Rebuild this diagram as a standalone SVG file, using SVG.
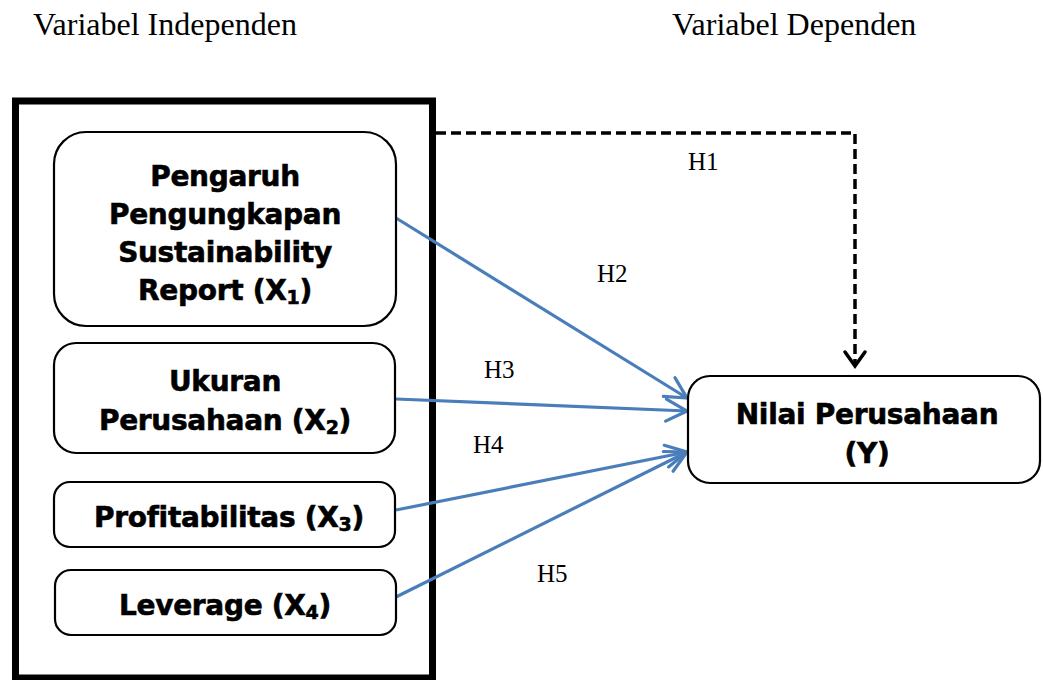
<svg xmlns="http://www.w3.org/2000/svg" width="1043" height="680" viewBox="0 0 1043 680">
<defs>
<style>
.hd{font-family:"Liberation Serif","Times New Roman",serif;font-size:32px;fill:#000}
.lb{font-family:"Liberation Serif","Times New Roman",serif;font-size:25px;fill:#000}
.nt{font-family:"DejaVu Sans",Verdana,sans-serif;font-weight:bold;font-size:28px;fill:#000;stroke:#000;stroke-width:0.6;text-anchor:middle;letter-spacing:-0.3px}
.sub{font-size:19px}
.box{fill:#fff;stroke:#000;stroke-width:2.2}
.blue{fill:none;stroke:#4a7ebb;stroke-width:3.2;marker-end:url(#ab)}
.dash{fill:none;stroke:#000;stroke-width:3.5;stroke-dasharray:10 5;marker-end:url(#ak)}
</style>
<marker id="ab" markerUnits="userSpaceOnUse" viewBox="-24 -14 28 28" refX="0" refY="0" markerWidth="28" markerHeight="28" orient="auto">
<path d="M-21 -11 L0 0 L-21 11" fill="none" stroke="#4a7ebb" stroke-width="3.2" stroke-linecap="round" stroke-linejoin="miter"/>
</marker>
<marker id="ak" markerUnits="userSpaceOnUse" viewBox="-24 -14 28 28" refX="0" refY="0" markerWidth="28" markerHeight="28" orient="auto">
<path d="M-14 -10 L0 0 L-14 10" fill="none" stroke="#000" stroke-width="3.5" stroke-linecap="round"/>
</marker>
</defs>
<rect width="1043" height="680" fill="#fff"/>
<g id="headings">
<text class="hd" x="33" y="35">Variabel Independen</text>
<text class="hd" x="672" y="35">Variabel Dependen</text>
</g>
<g id="group-independen">
<rect x="15.5" y="101" width="417" height="577" fill="none" stroke="#000" stroke-width="7"/>
</g>
<g id="connectors">
<path class="dash" d="M436 133 H855 V366"/>
<path class="blue" d="M396 218 L687 398"/>
<path class="blue" d="M396 399 L687 411"/>
<path class="blue" d="M396 510 L687 452"/>
<path class="blue" d="M396 597 L687 452"/>
<text class="lb" x="688" y="170">H1</text>
<text class="lb" x="597" y="282">H2</text>
<text class="lb" x="484" y="378">H3</text>
<text class="lb" x="473" y="453">H4</text>
<text class="lb" x="537" y="582">H5</text>
</g>
<g id="node-x1">
<rect class="box" x="54" y="132" width="342" height="194" rx="32"/>
<text class="nt" x="225" y="186">Pengaruh</text>
<text class="nt" x="225" y="224">Pengungkapan</text>
<text class="nt" x="225" y="262">Sustainability</text>
<text class="nt" x="225" y="300">Report (X<tspan class="sub" dy="4">1</tspan><tspan dy="-4">)</tspan></text>
</g>
<g id="node-x2">
<rect class="box" x="54" y="343" width="341" height="110" rx="22"/>
<text class="nt" x="225" y="391">Ukuran</text>
<text class="nt" x="225" y="430">Perusahaan (X<tspan class="sub" dy="4">2</tspan><tspan dy="-4">)</tspan></text>
</g>
<g id="node-x3">
<rect class="box" x="54" y="482" width="341" height="65" rx="16"/>
<text class="nt" x="229" y="527">Profitabilitas (X<tspan class="sub" dy="4">3</tspan><tspan dy="-4">)</tspan></text>
</g>
<g id="node-x4">
<rect class="box" x="55" y="570" width="341" height="65" rx="16"/>
<text class="nt" x="225" y="615">Leverage (X<tspan class="sub" dy="4">4</tspan><tspan dy="-4">)</tspan></text>
</g>
<g id="node-y">
<rect class="box" x="688" y="376" width="352" height="107" rx="22"/>
<text class="nt" x="867" y="424">Nilai Perusahaan</text>
<text class="nt" x="867" y="463">(Y)</text>
</g>
</svg>
